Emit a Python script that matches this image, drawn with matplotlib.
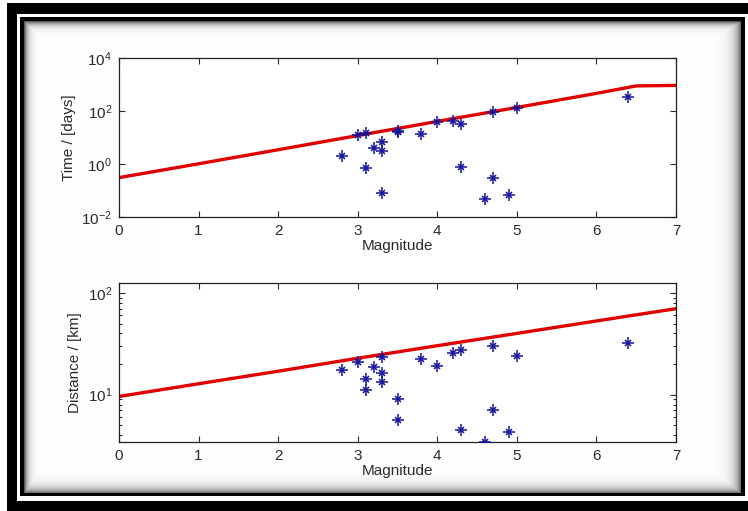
import numpy as np
import matplotlib
matplotlib.use("Agg")
import matplotlib.pyplot as plt
from matplotlib.patches import Rectangle
from matplotlib.ticker import FixedLocator, NullLocator, LogLocator, LogFormatterSciNotation, NullFormatter

plt.rcParams['font.family'] = ['Liberation Sans', 'DejaVu Sans']
plt.rcParams['mathtext.default'] = 'regular'

# ---- data ----
magnitude = [2.8, 3.0, 3.1, 3.1, 3.2, 3.3, 3.3, 3.3, 3.5, 3.5, 3.8,
             4.0, 4.2, 4.3, 4.3, 4.6, 4.7, 4.7, 4.9, 5.0, 6.4]
time_days = [2.0, 12.3, 14.2, 0.68, 4.1, 6.5, 3.1, 0.077, 15.5, 17.0, 13.0,
             39.0, 42.7, 32.0, 0.74, 0.047, 93.0, 0.30, 0.066, 125.0, 344.0]
distance_km = [17.5, 21.1, 14.3, 11.1, 18.7, 23.7, 16.5, 13.3, 9.0, 5.7, 22.3,
               19.1, 25.5, 27.3, 4.47, 3.45, 30.4, 7.08, 4.33, 24.0, 32.0]

window_mag = [0, 1, 2, 3, 4, 5, 6, 6.5, 7]
window_time = [0.3, 1.0, 3.4, 11.7, 40.0, 135.0, 460.0, 880.0, 920.0]
window_dist_mag = [0, 1, 2, 3, 4, 5, 6, 7]
window_dist = [9.6, 12.8, 17.0, 22.8, 30.3, 40.0, 53.0, 70.0]

xticks = [0, 1, 2, 3, 4, 5, 6, 7]

W, H = 748, 511
fig = plt.figure(figsize=(W / 100, H / 100), dpi=100)
fig.patch.set_facecolor('white')

# ---- decorative frame (pixel coordinates) ----
bg = fig.add_axes([0, 0, 1, 1], zorder=-10)
bg.axis('off')
bg.add_patch(Rectangle((7, 3), 800, 600, facecolor='black', edgecolor='none'))
bg.add_patch(Rectangle((17, 14), 800, 487, facecolor='white', edgecolor='none'))
bg.add_patch(Rectangle((20, 17), 725, 479, facecolor='black', edgecolor='none'))
x0, y0, x1, y1 = 24, 21, 741, 493
w, h = x1 - x0, y1 - y0
xs = np.arange(w) + 0.5
ys = np.arange(h) + 0.5
XX, YY = np.meshgrid(xs, ys)
dark = np.maximum.reduce([
    0.75 * np.exp(-XX / 3.5),
    0.75 * np.exp(-YY / 3.5),
    0.6 * np.exp(-(w - XX) / 6.0),
    0.6 * np.exp(-(h - YY) / 5.0),
])
img = np.dstack([1 - dark] * 3)
bg.imshow(img, extent=(x0, x1, y1, y0), interpolation='bilinear', aspect='auto', zorder=1)
bg.set_xlim(0, W)
bg.set_ylim(H, 0)

star_color = '#12129a'
tick_color = '#2a2a2a'
fs = 11


def stars(ax, x, y):
    ax.plot(x, y, linestyle='none', marker='+', markersize=9,
            markeredgewidth=1.1, color=star_color, zorder=3)
    ax.plot(x, y, linestyle='none', marker='x', markersize=5,
            markeredgewidth=1.1, color=star_color, zorder=3)


def style(ax):
    for s in ax.spines.values():
        s.set_linewidth(0.9)
        s.set_color('#202020')
    ax.tick_params(which='both', direction='in', top=True, right=True,
                   labelsize=fs, colors=tick_color, width=0.8)
    ax.tick_params(which='major', length=4.5, pad=5)
    ax.tick_params(which='minor', length=2.5)
    ax.set_xlim(0, 7)
    ax.xaxis.set_major_locator(FixedLocator(xticks))
    ax.set_facecolor('white')


# ---- top: time window ----
ax1 = fig.add_axes([119 / W, (H - 216.7) / H, 557 / W, 158.7 / H])
ax1.set_yscale('log')
ax1.plot(window_mag, window_time, color='#e00000', linewidth=2.4, zorder=2)
stars(ax1, magnitude, time_days)
ax1.set_ylim(1e-2, 1e4)
ax1.yaxis.set_major_locator(FixedLocator([1e-2, 1e0, 1e2, 1e4]))
ax1.yaxis.set_major_formatter(LogFormatterSciNotation())
ax1.yaxis.set_minor_locator(NullLocator())
style(ax1)
ax1.set_xlabel('Magnitude', fontsize=fs, color=tick_color, labelpad=1)
ax1.set_ylabel('Time / [days]', fontsize=fs, color=tick_color, labelpad=4)

# ---- bottom: distance window ----
ax2 = fig.add_axes([119 / W, (H - 441.7) / H, 557 / W, 159 / H])
ax2.set_yscale('log')
ax2.plot(window_dist_mag, window_dist, color='#e00000', linewidth=2.4, zorder=2)
stars(ax2, magnitude, distance_km)
ax2.set_ylim(3.45, 126)
ax2.yaxis.set_major_locator(FixedLocator([1e1, 1e2]))
ax2.yaxis.set_major_formatter(LogFormatterSciNotation())
ax2.yaxis.set_minor_locator(LogLocator(base=10, subs=np.arange(2, 10)))
ax2.yaxis.set_minor_formatter(NullFormatter())
style(ax2)
ax2.set_xlabel('Magnitude', fontsize=fs, color=tick_color, labelpad=1)
ax2.set_ylabel('Distance / [km]', fontsize=fs, color=tick_color, labelpad=4)

fig.savefig('out.png', dpi=100)
